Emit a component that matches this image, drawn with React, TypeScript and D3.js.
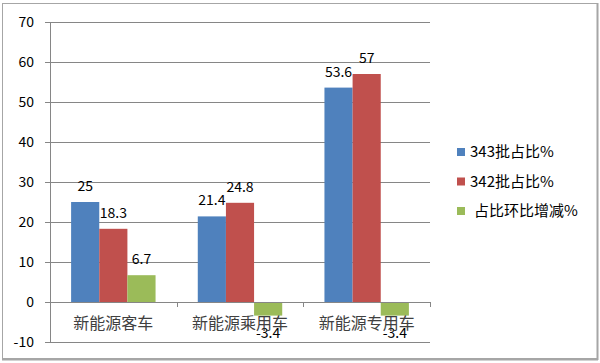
import React from "react";
import * as d3 from "d3";

const categories = ["新能源客车", "新能源乘用车", "新能源专用车"];
const seriesNames = ["343批占比%", "342批占比%", "占比环比增减%"];
const batch343 = [25, 21.4, 53.6];
const batch342 = [18.3, 24.8, 57];
const change = [6.7, -3.4, -3.4];
const yTicks = [-10, 0, 10, 20, 30, 40, 50, 60, 70];
const colors = ["#4F81BD", "#C0504D", "#9BBB59"];

const W = 600;
const H = 363;
const plot = { left: 50, right: 430, top: 22, bottom: 342 };
const FONT = "'Noto Sans CJK SC', 'Noto Sans', sans-serif";

/** 柱状图 */
export default function App() {
    const series = [batch343, batch342, change];

    const y = d3.scaleLinear().domain([-10, 70]).range([plot.bottom, plot.top]);
    const x0 = d3.scaleBand<string>().domain(categories).range([plot.left, plot.right]);
    // 柱宽 = 分类宽 / 4.5 (间隙 150%)
    const barW = x0.bandwidth() / 4.5;
    const x1 = d3.scaleBand<number>().domain([0, 1, 2])
        .range([0, barW * 3]);
    const groupOffset = barW * 0.75;

    return (
        <svg width={W} height={H} style={{ position: "absolute", left: 0, top: 0, background: "#fff" }}
            fontFamily={FONT}>
            {/* 外框 */}
            <rect x={2.5} y={3.5} width={595} height={355} fill="#fff" stroke="#a6a6a6" strokeWidth={1} />
            <line x1={597.5} y1={3} x2={597.5} y2={360} stroke="#a6a6a6" strokeWidth={2} />
            <line x1={2} y1={359.5} x2={598} y2={359.5} stroke="#a6a6a6" strokeWidth={2} />

            {/* 网格线 与 Y 轴刻度 */}
            {yTicks.map(t => (
                <g key={t}>
                    <line x1={plot.left - 5} x2={plot.right} y1={Math.round(y(t)) + 0.5} y2={Math.round(y(t)) + 0.5}
                        stroke="#868686" strokeWidth={1} />
                    <text x={34} y={y(t)} dy="0.35em" textAnchor="end" fontSize={14} fill="#000">{t}</text>
                </g>
            ))}
            <line x1={plot.left + 0.5} x2={plot.left + 0.5} y1={plot.top} y2={plot.bottom} stroke="#868686" />

            {/* 柱子 */}
            {categories.map((c, ci) => (
                <g key={c} transform={`translate(${x0(c)! + groupOffset},0)`}>
                    {series.map((s, si) => {
                        const v = s[ci];
                        const top = y(Math.max(0, v));
                        const h = Math.abs(y(v) - y(0));
                        const cx = x1(si)! + barW / 2;
                        return (
                            <g key={si}>
                                <rect x={x1(si)} y={top} width={barW} height={h} fill={colors[si]} />
                                <text x={cx} y={v >= 0 ? y(v) - 16 : y(v) + 17} dy="0.35em"
                                    textAnchor="middle" fontSize={14} fill="#000">{v}</text>
                            </g>
                        );
                    })}
                </g>
            ))}

            {/* X 轴 */}
            <line x1={plot.left} x2={plot.right} y1={Math.round(y(0)) + 0.5} y2={Math.round(y(0)) + 0.5} stroke="#868686" />
            {d3.range(categories.length + 1).map(i => {
                const xx = Math.round(plot.left + i * x0.step()) + 0.5;
                return <line key={i} x1={xx} x2={xx} y1={y(0)} y2={y(0) + 5} stroke="#868686" />;
            })}
            {categories.map(c => (
                <text key={c} x={x0(c)! + x0.bandwidth() / 2} y={323} dy="0.35em" textAnchor="middle"
                    fontSize={16} fill="#404040">{c}</text>
            ))}

            {/* 图例 */}
            {seriesNames.map((n, i) => (
                <g key={n} transform={`translate(457,${152 + i * 29.5})`}>
                    <rect x={0} y={-4} width={8} height={8} fill={colors[i]} />
                    <text x={i === 2 ? 17 : 13} y={0} dy="0.35em" fontSize={15} fill="#000">{n}</text>
                </g>
            ))}
        </svg>
    );
}
